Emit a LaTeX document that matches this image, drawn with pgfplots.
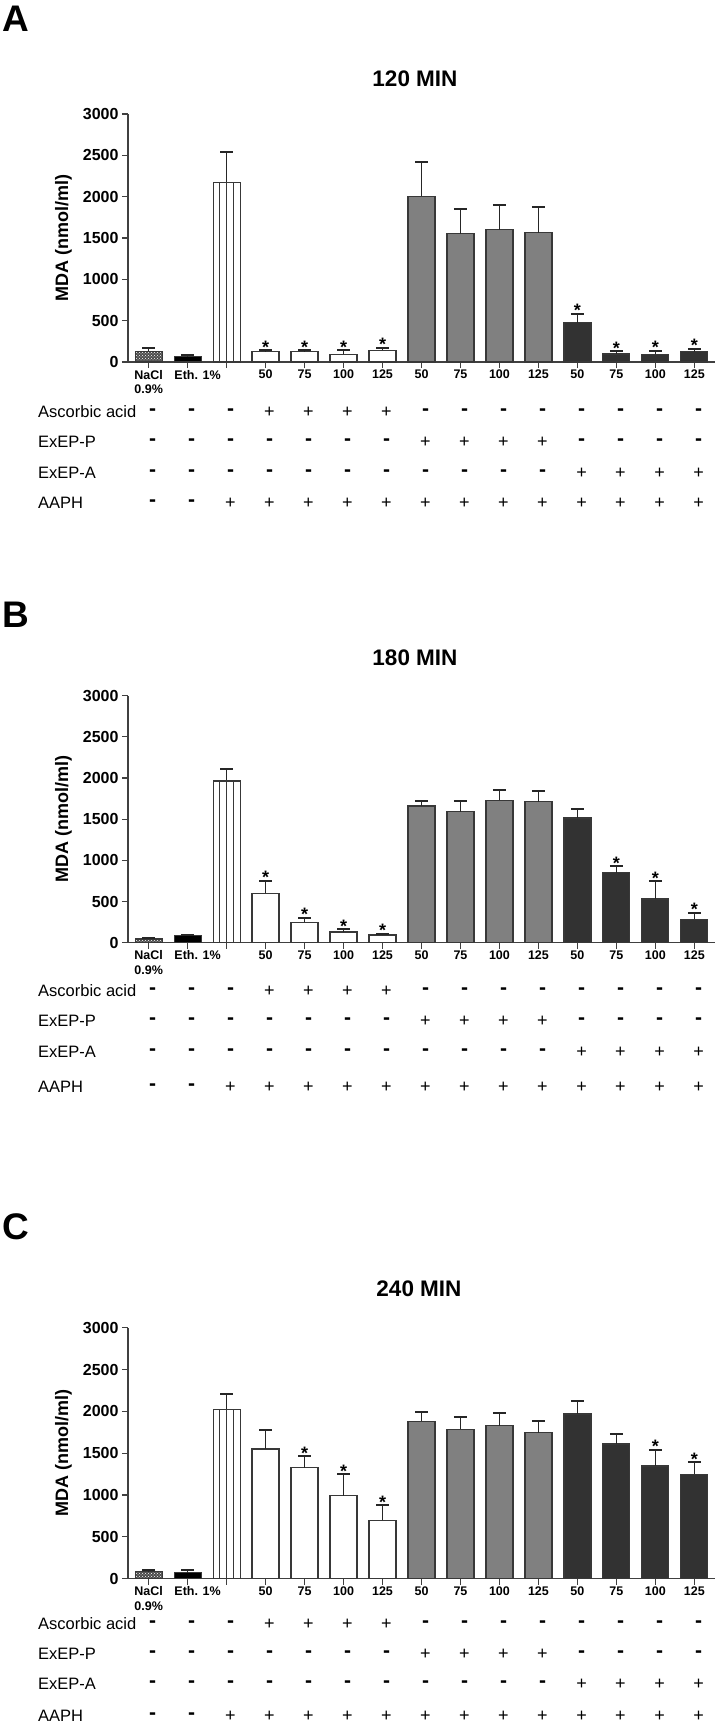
\documentclass[border=0pt]{standalone}
\usepackage{fontspec}
\setmainfont{Liberation Sans}
\usepackage{pgfplots}
\pgfplotsset{compat=1.18}
\usetikzlibrary{patterns}

\definecolor{pgray}{HTML}{808080}
\definecolor{adark}{HTML}{323232}
\definecolor{edge}{HTML}{383838}

\pgfplotsset{
  mdapanel/.style={
    scale only axis, width=587pt,
    xmin=-0.53, xmax=14.53, ymin=0, ymax=3000,
    axis x line*=bottom, axis y line*=left,
    axis line style={-, draw=black!75, line width=1.2pt},
    xtick={0,...,14},
    xticklabels={{NaCl\\0.9\%},{\hspace*{20pt}Eth. 1\%},{},50,75,100,125,50,75,100,125,50,75,100,125},
    ytick={0,500,...,3000},
    tick align=outside, major tick length=6pt,
    tick style={black!75, line width=1.2pt},
    xticklabel style={font=\fontsize{12.5}{14.5}\selectfont\bfseries, align=center,
      inner sep=2pt},
    yticklabel style={font=\fontsize{16}{18}\selectfont\bfseries},
    /pgf/number format/assume math mode=true,
    /pgf/number format/1000 sep={},
    ylabel={MDA (nmol/ml)},
    ylabel style={at={(axis description cs:-0.11,0.5)}, anchor=center,
      font=\fontsize{18}{19}\selectfont\bfseries},
    clip=false,
  },
  mdabar/.style={ybar, bar shift=0pt, bar width=27pt, draw=edge, line width=1.2pt},
  nacl/.style={fill=black!70, postaction={pattern=crosshatch dots, pattern color=white}},
  mdaerr/.style={error bars/.cd, y dir=plus, y explicit,
    error bar style={black!85, line width=1.1pt},
    error mark options={rotate=90, mark size=6.5pt, line width=2pt}},
  stars/.style={only marks, mark=none, nodes near coords={*},
    every node near coord/.style={font=\fontsize{18}{18}\selectfont\bfseries,
      anchor=base, yshift=-3pt, inner sep=0pt}},
}

\newcommand\rowfont{\fontsize{16.5}{18}\selectfont}
\def\sgm{{\fontsize{21}{21}\selectfont\bfseries -}}
\def\sgp{{\fontsize{18}{18}\selectfont +}}
\newcommand\signrow[3]{%
  \node[anchor=west, font=\rowfont, inner sep=0pt] at (38pt,-#1pt) {#2};
  \foreach \s [count=\i from 0] in {#3}
    \node[inner sep=0pt] at ({(152.5+39*\i)*1pt},-#1pt) {\csname sg\s\endcsname};
}
\newcommand\signtable[4]{%
  \signrow{#1}{Ascorbic acid}{m,m,m,p,p,p,p,m,m,m,m,m,m,m,m}
  \signrow{#2}{ExEP-P}{m,m,m,m,m,m,m,p,p,p,p,m,m,m,m}
  \signrow{#3}{ExEP-A}{m,m,m,m,m,m,m,m,m,m,m,p,p,p,p}
  \signrow{#4}{AAPH}{m,m,p,p,p,p,p,p,p,p,p,p,p,p,p}
}
\newcommand\letterfont{\fontsize{37}{37}\selectfont\bfseries}
\newcommand\titlefont{\fontsize{22.5}{24}\selectfont\bfseries}

\begin{document}
\begin{tikzpicture}
\path[use as bounding box] (0,0) rectangle (723pt,-1725pt);

% ---------------- A: 120 min ----------------
\node[anchor=north west, inner sep=0pt, font=\letterfont] at (2pt,-6pt) {A};
\node[font=\titlefont] at (415pt,-79pt) {120 MIN};
\begin{axis}[mdapanel, at={(128pt,-362pt)}, anchor=south west, height=248pt]
\addplot[mdabar, nacl, mdaerr] coordinates {(0,130) +- (0,40)};
\addplot[mdabar, fill=black, mdaerr] coordinates {(1,62) +- (0,18)};
\addplot[mdabar, fill=white, mdaerr] coordinates {(2,2170) +- (0,375)};
\addplot[mdabar, fill=none, bar width=13.5pt] coordinates {(2,2170)};
\addplot[mdabar, fill=none, bar width=0.01pt] coordinates {(2,2170)};
\addplot[mdabar, fill=white, mdaerr] coordinates {
  (3,125) +- (0,15) (4,125) +- (0,15) (5,95) +- (0,45) (6,140) +- (0,35)};
\addplot[mdabar, fill=pgray, mdaerr] coordinates {
  (7,2005) +- (0,415) (8,1550) +- (0,305) (9,1600) +- (0,300) (10,1565) +- (0,315)};
\addplot[mdabar, fill=adark, mdaerr] coordinates {
  (11,475) +- (0,110) (12,97) +- (0,32) (13,93) +- (0,42) (14,125) +- (0,38)};
\addplot[stars] coordinates {(3,140) (4,140) (5,140) (6,175) (11,585) (12,129) (13,135) (14,163)};
\end{axis}
\signtable{412}{442}{473}{503}

% ---------------- B: 180 min ----------------
\node[anchor=north west, inner sep=0pt, font=\letterfont] at (2pt,-602pt) {B};
\node[font=\titlefont] at (415pt,-658pt) {180 MIN};
\begin{axis}[mdapanel, at={(128pt,-942.7pt)}, anchor=south west, height=247pt]
\addplot[mdabar, nacl, mdaerr] coordinates {(0,45) +- (0,15)};
\addplot[mdabar, fill=black, mdaerr] coordinates {(1,85) +- (0,7)};
\addplot[mdabar, fill=white, mdaerr] coordinates {(2,1964) +- (0,150)};
\addplot[mdabar, fill=none, bar width=13.5pt] coordinates {(2,1964)};
\addplot[mdabar, fill=none, bar width=0.01pt] coordinates {(2,1964)};
\addplot[mdabar, fill=white, mdaerr] coordinates {
  (3,600) +- (0,150) (4,247) +- (0,57) (5,130) +- (0,36) (6,93) +- (0,16)};
\addplot[mdabar, fill=pgray, mdaerr] coordinates {
  (7,1660) +- (0,65) (8,1591) +- (0,130) (9,1729) +- (0,129) (10,1713) +- (0,125)};
\addplot[mdabar, fill=adark, mdaerr] coordinates {
  (11,1514) +- (0,109) (12,850) +- (0,81) (13,530) +- (0,219) (14,283) +- (0,81)};
\addplot[stars] coordinates {(3,750) (4,304) (5,166) (6,109) (12,931) (13,749) (14,364)};
\end{axis}
\signtable{991}{1021}{1052}{1087}

% ---------------- C: 240 min ----------------
\node[anchor=north west, inner sep=0pt, font=\letterfont] at (2pt,-1213pt) {C};
\node[font=\titlefont] at (419pt,-1289pt) {240 MIN};
\begin{axis}[mdapanel, at={(128pt,-1578.5pt)}, anchor=south west, height=250.8pt]
\addplot[mdabar, nacl, mdaerr] coordinates {(0,80) +- (0,25)};
\addplot[mdabar, fill=black, mdaerr] coordinates {(1,72) +- (0,28)};
\addplot[mdabar, fill=white, mdaerr] coordinates {(2,2020) +- (0,191)};
\addplot[mdabar, fill=none, bar width=13.5pt] coordinates {(2,2020)};
\addplot[mdabar, fill=none, bar width=0.01pt] coordinates {(2,2020)};
\addplot[mdabar, fill=white, mdaerr] coordinates {
  (3,1550) +- (0,223) (4,1325) +- (0,139) (5,990) +- (0,257) (6,696) +- (0,180)};
\addplot[mdabar, fill=pgray, mdaerr] coordinates {
  (7,1881) +- (0,114) (8,1784) +- (0,154) (9,1830) +- (0,149) (10,1742) +- (0,139)};
\addplot[mdabar, fill=adark, mdaerr] coordinates {
  (11,1969) +- (0,155) (12,1608) +- (0,119) (13,1345) +- (0,196) (14,1247) +- (0,145)};
\addplot[stars] coordinates {(4,1464) (5,1247) (6,876) (13,1541) (14,1392)};
\end{axis}
\signtable{1624}{1654}{1684}{1716}
\end{tikzpicture}
\end{document}
